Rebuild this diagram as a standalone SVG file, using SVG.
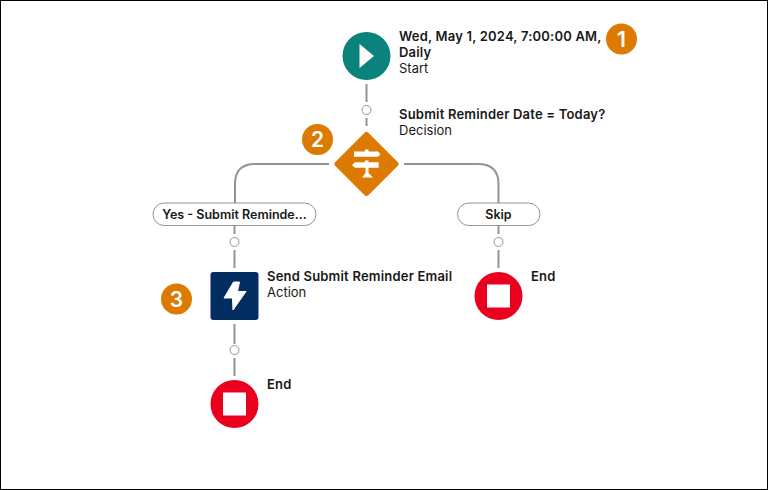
<svg xmlns="http://www.w3.org/2000/svg" width="768" height="490" viewBox="0 0 768 490">
<style>
text{font-family:Inter,"Liberation Sans",sans-serif;font-size:13px;fill:#181818}
.b{font-weight:600;letter-spacing:.2px}
.c{text-anchor:middle;font-size:12.5px;letter-spacing:0}
.conn path{fill:none;stroke:#969492;stroke-width:2}
.conn circle{fill:#fff;stroke:#969492;stroke-width:1}
.pill{fill:#fff;stroke:#969492;stroke-width:1}
.badge circle{fill:#dd7a01}
.badge text{fill:#fff;font-size:21px;font-weight:600;text-anchor:middle}
.end circle{fill:#ea001e}
.end rect{fill:#fff}
</style>
<rect x="0.5" y="0.5" width="767" height="489" fill="#fff" stroke="#000"/>
<g id="connectors" class="conn">
<path d="M366.5 84V102M366.5 118V126"/>
<circle cx="366.5" cy="110" r="4.5"/>
<path d="M329 164H255Q235 164 235 184V203"/>
<path d="M404 164H478Q498.500 164 498.500 184V203"/>
<path d="M234.500 226V234M234.500 250V268M234.500 324V344M234.500 358V376"/>
<circle cx="234.500" cy="242" r="4.500"/>
<circle cx="234.500" cy="350" r="4.500"/>
<path d="M498.500 226V234M498.500 250V268"/>
<circle cx="498.500" cy="242" r="4.500"/>
</g>
<g id="start">
<circle cx="366.500" cy="56" r="24" fill="#0b827c"/>
<path d="M359.500 44L374 56L359.500 68Z" fill="#fff"/>
<text class="b" x="399" y="41">Wed, May 1, 2024, 7:00:00 AM,</text>
<text class="b" x="399" y="57">Daily</text>
<text x="399" y="73">Start</text>
</g>
<g id="decision">
<rect x="343" y="140.500" width="47" height="47" rx="3" transform="rotate(45 366.500 164)" fill="#dd7a01"/>
<path d="M354 151.500H365V149.500H368.500V151.500H378L380.500 154L378 156.700H354ZM355 162.300H365V160.500H368.500V162.300H378.700V167.700H355L352 165ZM365.500 167.700H368.500V173L373 177.500H362L365.500 173Z" fill="#fff"/>
<text class="b" x="399" y="119">Submit Reminder Date = Today?</text>
<text x="399" y="135">Decision</text>
</g>
<g id="branch-yes">
<rect class="pill" x="153" y="203" width="163" height="22.500" rx="11.250"/>
<text class="b c" x="234.500" y="219">Yes - Submit Reminde...</text>
</g>
<g id="branch-skip">
<rect class="pill" x="457.500" y="203" width="82.500" height="22.500" rx="11.250"/>
<text class="b c" x="498.500" y="219">Skip</text>
</g>
<g id="action">
<rect x="210.500" y="272" width="48" height="48" rx="3" fill="#032d60"/>
<path d="M233.500 282L224 298H232.500L233 310L246 291.500H237.500L239.500 282Z" fill="#fff" stroke="#fff" stroke-width="1" stroke-linejoin="round"/>
<text class="b" x="267" y="281">Send Submit Reminder Email</text>
<text x="267" y="297">Action</text>
</g>
<g id="end-left" class="end">
<circle cx="234.500" cy="404" r="24"/>
<rect x="223" y="392.500" width="23" height="23"/>
<text class="b" x="267" y="389">End</text>
</g>
<g id="end-right" class="end">
<circle cx="498.500" cy="296" r="24"/>
<rect x="487" y="284.500" width="23" height="23"/>
<text class="b" x="531" y="281">End</text>
</g>
<g id="badge-1" class="badge"><circle cx="621.500" cy="39" r="15.500"/><text x="621.500" y="46.500">1</text></g>
<g id="badge-2" class="badge"><circle cx="317.500" cy="139.500" r="15.500"/><text x="317.500" y="147">2</text></g>
<g id="badge-3" class="badge"><circle cx="176.500" cy="299" r="15.500"/><text x="176.500" y="306.500">3</text></g>
</svg>
